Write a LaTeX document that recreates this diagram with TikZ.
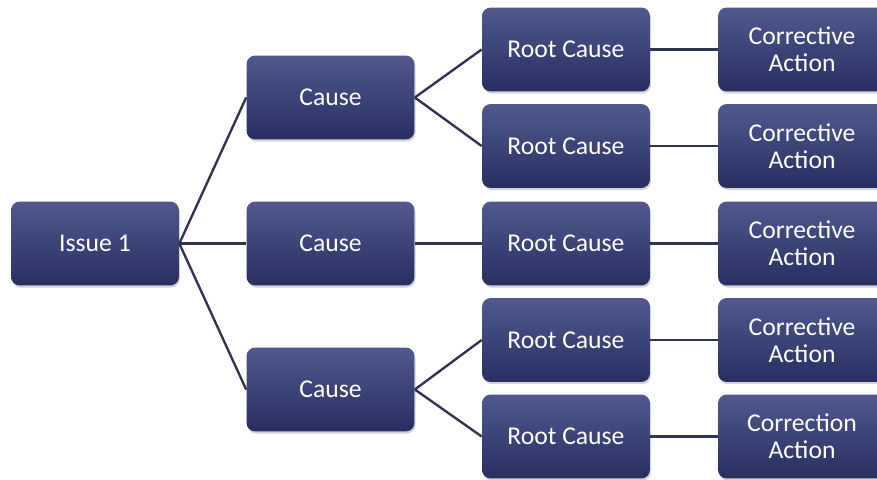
\documentclass[tikz,border=0pt]{standalone}
\usepackage{fontspec}
\setmainfont{Carlito}
\usetikzlibrary{shadows}

\definecolor{boxtop}{RGB}{80,88,142}
\definecolor{boxbot}{RGB}{40,46,96}
\definecolor{linkcol}{RGB}{48,52,82}

\tikzset{
	box/.style={rounded corners=5pt, top color=boxtop, bottom color=boxbot,
		text=white, align=center, minimum width=3.36cm, minimum height=1.68cm,
		font=\fontsize{14.6}{15.2}\selectfont,
		drop shadow={shadow xshift=0.6pt, shadow yshift=-1.2pt, fill=black!50, opacity=0.35}},
	link/.style={draw=linkcol, line width=1.35pt},
}

\begin{document}
\begin{tikzpicture}[x=0.02cm, y=-0.02cm]
		\useasboundingbox (0,0) rectangle (877,480);

		\node[box] (issue) at (95,243.5) {Issue 1};

		\node[box] (cause1) at (330.5,97.5) {Cause};
		\node[box] (cause2) at (330.5,243.5) {Cause};
		\node[box] (cause3) at (330.5,389.5) {Cause};

		\node[box] (root1) at (566,49.5) {Root Cause};
		\node[box] (root2) at (566,146) {Root Cause};
		\node[box] (root3) at (566,243.5) {Root Cause};
		\node[box] (root4) at (566,340) {Root Cause};
		\node[box] (root5) at (566,436.5) {Root Cause};

		\node[box] (act1) at (802,49.5) {Corrective\\Action};
		\node[box] (act2) at (802,146) {Corrective\\Action};
		\node[box] (act3) at (802,243.5) {Corrective\\Action};
		\node[box] (act4) at (802,340) {Corrective\\Action};
		\node[box] (act5) at (802,436.5) {Correction\\Action};

		% issue to causes
		\draw[link] (issue.east)--(cause1.west);
		\draw[link] (issue.east)--(cause2.west);
		\draw[link] (issue.east)--(cause3.west);

		% causes to root causes
		\draw[link] (cause1.east)--(root1.west);
		\draw[link] (cause1.east)--(root2.west);
		\draw[link] (cause2.east)--(root3.west);
		\draw[link] (cause3.east)--(root4.west);
		\draw[link] (cause3.east)--(root5.west);

		% root causes to actions
		\foreach \i in {1,...,5}
			\draw[link] (root\i.east)--(act\i.west);
	\end{tikzpicture}
\end{document}
